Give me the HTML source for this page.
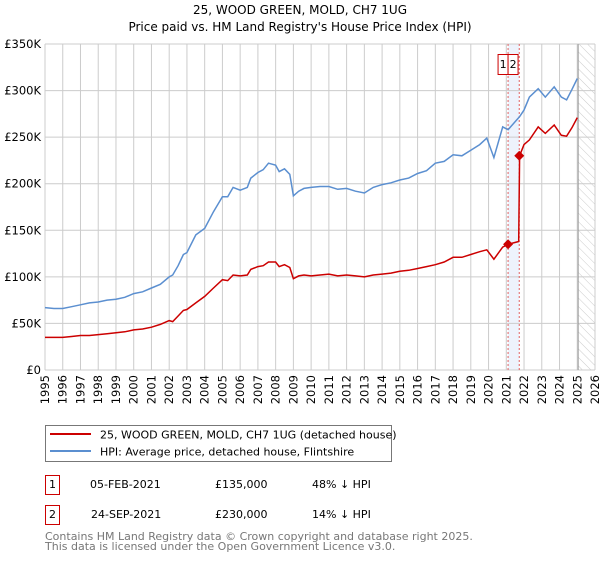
<!DOCTYPE html>
<html><head><meta charset="utf-8"><style>
body{margin:0;background:#fff;font-family:"Liberation Sans","DejaVu Sans",sans-serif;}
svg text{font-family:"DejaVu Sans","Liberation Sans",sans-serif;}
</style></head><body>
<svg width="600" height="560" viewBox="0 0 600 560" xmlns="http://www.w3.org/2000/svg">
<defs><pattern id="hatch" width="6" height="6" patternUnits="userSpaceOnUse" patternTransform="rotate(-45)"><line x1="0" y1="0" x2="0" y2="6" stroke="#ccc" stroke-width="1"/></pattern></defs>
<text x="300" y="14" text-anchor="middle" font-size="12" fill="#000">25, WOOD GREEN, MOLD, CH7 1UG</text>
<text x="300" y="31" text-anchor="middle" font-size="12" fill="#000">Price paid vs. HM Land Registry's House Price Index (HPI)</text>
<g id="grid"></g>
<g id="marks"></g>
<g id="axes"></g>
<g>
<rect x="45.5" y="425.5" width="346" height="36" fill="#fff" stroke="#777"/>
<line x1="50" y1="434" x2="91" y2="434" stroke="#cc0000" stroke-width="2"/>
<text x="100" y="438.5" font-size="11">25, WOOD GREEN, MOLD, CH7 1UG (detached house)</text>
<line x1="50" y1="451" x2="91" y2="451" stroke="#5b8fd0" stroke-width="2"/>
<text x="100" y="455.5" font-size="11">HPI: Average price, detached house, Flintshire</text>
</g>
<g>
<rect x="45.5" y="475.5" width="14" height="19" fill="none" stroke="#cc0000"/>
<text x="52.5" y="488" text-anchor="middle" font-size="11">1</text>
<text x="90" y="488" font-size="11">05-FEB-2021</text>
<text x="215" y="488" font-size="11">£135,000</text>
<text x="312" y="488" font-size="11">48% ↓ HPI</text>
</g>
<g>
<rect x="45.5" y="505.5" width="14" height="19" fill="none" stroke="#cc0000"/>
<text x="52.5" y="518" text-anchor="middle" font-size="11">2</text>
<text x="91" y="518" font-size="11">24-SEP-2021</text>
<text x="215" y="518" font-size="11">£230,000</text>
<text x="312" y="518" font-size="11">14% ↓ HPI</text>
</g>
<text x="45" y="540" font-size="11" fill="#777">Contains HM Land Registry data © Crown copyright and database right 2025.</text>
<text x="45" y="550" font-size="11" fill="#777">This data is licensed under the Open Government Licence v3.0.</text>
</svg>
<script>
const years=[1995,1995.5,1996,1996.5,1997,1997.5,1998,1998.5,1999,1999.5,2000,2000.5,2001,2001.5,2002,2002.2,2002.5,2002.8,2003,2003.5,2004,2004.5,2005,2005.3,2005.6,2006,2006.4,2006.6,2007,2007.3,2007.6,2008,2008.2,2008.5,2008.8,2009,2009.3,2009.6,2010,2010.5,2011,2011.5,2012,2012.5,2013,2013.5,2014,2014.5,2015,2015.5,2016,2016.5,2017,2017.5,2018,2018.5,2019,2019.5,2019.9,2020.3,2020.8,2021.1,2021.7,2021.75,2022,2022.3,2022.8,2023.2,2023.7,2024.1,2024.4,2024.7,2025];
const hpi=[67,66,66,68,70,72,73,75,76,78,82,84,88,92,100,102,112,124,126,145,152,170,186,186,196,193,196,206,212,215,222,220,213,216,210,187,192,195,196,197,197,194,195,192,190,196,199,201,204,206,211,214,222,224,231,230,236,242,249,228,261,258,271,272,279,293,302,293,304,293,290,301,313];
const paid=[35,35,35,36,37,37,38,39,40,41,43,44,46,49,53,52,58,64,65,72,79,88,97,96,102,101,102,108,111,112,116,116,111,113,110,98,101,102,101,102,103,101,102,101,100,102,103,104,106,107,109,111,113,116,121,121,124,127,129,119,132,135,138,230,242,247,261,254,263,252,251,260,271];
const yTicks=[0,50,100,150,200,250,300,350];
const yLabels=["£0","£50K","£100K","£150K","£200K","£250K","£300K","£350K"];
const xTicks=[];for(let y=1995;y<=2026;y++)xTicks.push(y);
const sales=[{n:"1",t:2021.1,v:135},{n:"2",t:2021.73,v:230}];
const NS="http://www.w3.org/2000/svg";
const X0=45,X1=595,Y0=370,Y1=44;
const xs=t=>X0+(t-1995)*(X1-X0)/31;
const ys=v=>Y0-v*(Y0-Y1)/350;
function mk(tag,attrs,parent,txt){const e=document.createElementNS(NS,tag);for(const k in attrs)e.setAttribute(k,attrs[k]);if(txt!==undefined)e.textContent=txt;parent.appendChild(e);return e;}
const grid=document.getElementById('grid'),marks=document.getElementById('marks'),axes=document.getElementById('axes');
// sale band
const band=mk('rect',{x:xs(sales[0].t),y:Y1,width:xs(sales[1].t)-xs(sales[0].t),height:Y0-Y1,fill:'#eef3fc'},grid);


yTicks.forEach((v,i)=>{
 const l=mk('line',{x1:X0,x2:X1,y1:ys(v),y2:ys(v),stroke:'#ccc'},grid);
 
 
 const t=mk('text',{x:X0-4,y:ys(v)+4,'text-anchor':'end','font-size':'11.5'},axes,yLabels[i]);
 
 
});
xTicks.forEach(y=>{
 const l=mk('line',{x1:xs(y),x2:xs(y),y1:Y1,y2:Y0,stroke:'#ccc'},grid);
 
 
 const t=mk('text',{x:0,y:0,'text-anchor':'end','font-size':'11.5',transform:`translate(${xs(y)+4},${Y0+5}) rotate(-90)`},axes,String(y));
 
 
});
// future hatch
const hz=mk('rect',{x:xs(2025.05),y:Y1,width:X1-xs(2025.05),height:Y0-Y1,fill:'url(#hatch)'},grid);


const vl=mk('line',{x1:xs(2025.05),x2:xs(2025.05),y1:Y1,y2:Y0,stroke:'#999'},grid);


sales.forEach(s=>{
 const l=mk('line',{x1:xs(s.t),x2:xs(s.t),y1:Y1,y2:Y0,stroke:'#e06060','stroke-dasharray':'2,2'},grid);
 
 
});
const pts=a=>years.map((y,i)=>xs(y).toFixed(1)+','+ys(a[i]).toFixed(1)).join(' ');
const hl=mk('polyline',{points:pts(hpi),fill:'none',stroke:'#5b8fd0','stroke-width':1.5},marks);


const pl=mk('polyline',{points:pts(paid),fill:'none',stroke:'#cc0000','stroke-width':1.5},marks);


sales.forEach(s=>{
 const cx=xs(s.t),cy=ys(s.v);
 const d=mk('polygon',{points:`${cx},${cy-5} ${cx+5},${cy} ${cx},${cy+5} ${cx-5},${cy}`,fill:'#cc0000'},marks);
 
 
});
sales.forEach((s,i)=>{
 const bx=i===0?xs(s.t)-10:xs(s.t)-0;
 const g=mk('g',{},marks);
 
 
 mk('rect',{x:i===0?xs(sales[0].t)-10:xs(sales[0].t),y:54.5,width:10,height:20,fill:'#fff',stroke:'#cc0000'},g);
 mk('text',{x:(i===0?xs(sales[0].t)-10:xs(sales[0].t))+5,y:68,'text-anchor':'middle','font-size':'11'},g,s.n);
});
</script>
</body></html>
